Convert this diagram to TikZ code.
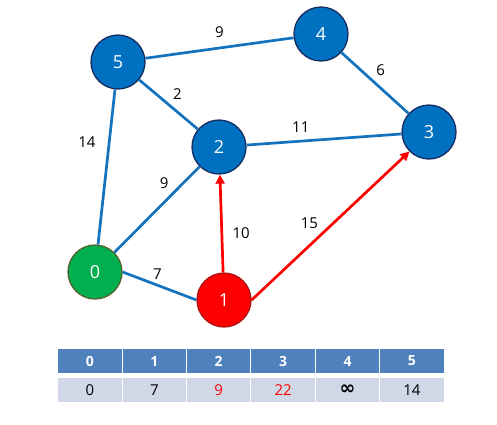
\documentclass[tikz,border=0pt]{standalone}
\usepackage{fontspec}
\setmainfont{Open Sans}
\newfontfamily\symfont{DejaVu Sans}
\usepackage{xcolor}
\definecolor{vblue}{RGB}{0,112,192}
\definecolor{vnavy}{RGB}{22,44,96}
\definecolor{vgreen}{RGB}{0,176,80}
\definecolor{vgreenline}{RGB}{84,98,46}
\definecolor{vred}{RGB}{255,0,0}
\definecolor{vredline}{RGB}{170,20,20}
\definecolor{edgeblue}{RGB}{20,115,190}
\definecolor{headblue}{RGB}{79,129,189}
\definecolor{rowgrey}{RGB}{208,216,232}
\usetikzlibrary{shapes.geometric,arrows.meta,positioning}
\tikzset{
  vert/.style={draw=vnavy, circle, line width=1.3pt, fill=vblue, minimum size=54pt, inner sep=0pt, text=white, font=\fontsize{18}{20}\selectfont},
  vstart/.style={vert, draw=vgreenline, fill=vgreen},
  vcur/.style={vert, draw=vredline, fill=vred},
  edge/.style={draw=edgeblue, line width=2.7pt},
  relax/.style={draw=vred, line width=2.7pt, -{Triangle[length=9pt,width=9pt]}},
  lbl/.style={font=\fontsize{15}{17}\selectfont, text=black},
  head/.style={draw=white, line width=1pt, fill=headblue, minimum width=64.4pt, minimum height=25.7pt, inner sep=0pt, text=white, font=\fontsize{14}{16}\selectfont\bfseries},
  cell/.style={head, fill=rowgrey, text=black, font=\fontsize{15}{17}\selectfont},
  upd/.style={cell, text=vred}
}

\begin{document}
\begin{tikzpicture}[x=1pt, y=-1pt]
  \useasboundingbox (0,0) rectangle (497,424);
  % graph
  \node[vert] (n5) at (118,62) {5};
  \node[vert] (n4) at (321,34) {4};
  \node[vert] (n3) at (429,132) {3};
  \node[vert] (n2) at (219,147) {2};
  \node[vstart] (n0) at (95,272) {0};
  \node[vcur] (n1) at (224,300) {1};
  \draw[edge] (n5) -- node[lbl, above=6pt]{9} (n4);
  \draw[edge] (n4) -- node[lbl, pos=0.45, above right]{6} (n3);
  \draw[edge] (n5) -- node[lbl, pos=0.5, above right]{2} (n2);
  \draw[edge] (n2) -- node[lbl, pos=0.35, above=4pt]{11} (n3);
  \draw[edge] (n5) -- node[lbl, pos=0.34, left=9pt]{14} (n0);
  \draw[edge] (n0) -- node[lbl, pos=0.69, above left]{9} (n2);
  \draw[edge] (n0.east) -- node[lbl, pos=0.47, above=1pt]{7} (n1.west);
  \draw[relax] (n1) -- node[lbl, pos=0.4, right=6pt]{10} (n2);
  \draw[relax] (n1.east) -- node[lbl, pos=0.45, above left]{15} (n3.south west);
  % distance table
  \node[head] (h0) at (89.9,361) {0};
  \node[head] (h1) at (154.3,361) {1};
  \node[head] (h2) at (218.7,361) {2};
  \node[head] (h3) at (283.1,361) {3};
  \node[head] (h4) at (347.5,361) {4};
  \node[head] (h5) at (411.9,361) {5};
  \node[cell] (d0) at (89.9,390) {0};
  \node[cell] (d1) at (154.3,390) {7};
  \node[upd] (d2) at (218.7,390) {9};
  \node[upd] (d3) at (283.1,390) {22};
  \node[cell] (d4) at (347.5,390) {\symfont\fontsize{19}{20}\selectfont\bfseries ∞};
  \node[cell] (d5) at (411.9,390) {14};
\end{tikzpicture}
\end{document}
